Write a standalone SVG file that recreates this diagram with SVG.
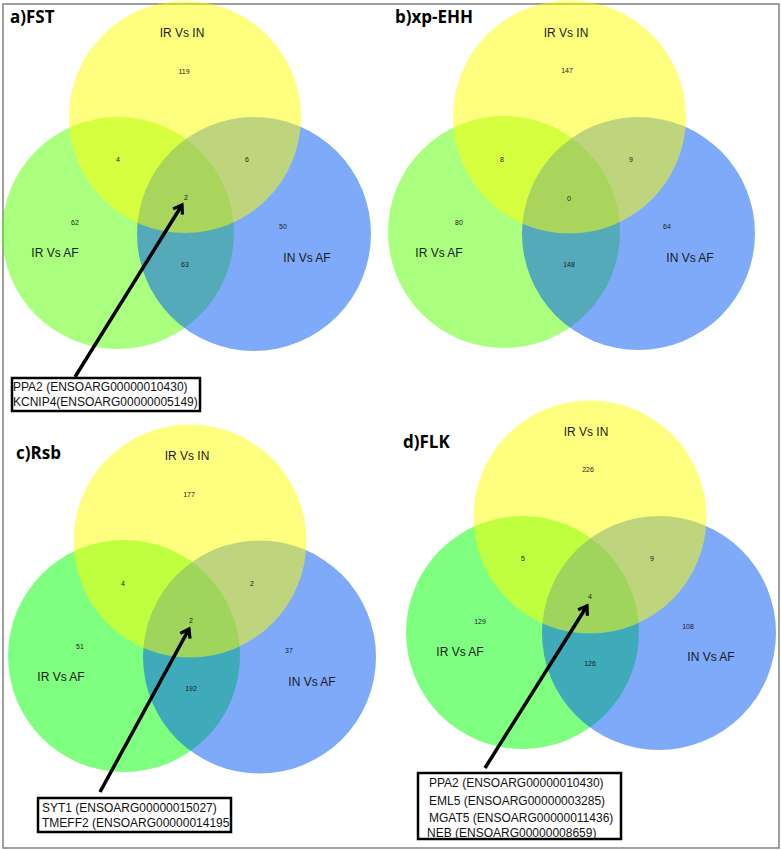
<svg xmlns="http://www.w3.org/2000/svg" width="781" height="850" viewBox="0 0 781 850">
<style>
.frame{fill:#ffffff;stroke:#808080;stroke-width:1.5}
.y{fill:#FFFF00;fill-opacity:0.5}
.g1{fill:#55FF00;fill-opacity:0.5}
.g2{fill:#00FF00;fill-opacity:0.5}
.b{fill:#0055F5;fill-opacity:0.5}
.lab{font-family:"Liberation Sans",Arial,sans-serif;font-size:12px;fill:#1a1a1a;text-anchor:middle}
.num{font-family:"Liberation Sans",Arial,sans-serif;font-size:7px;fill:#1a1a1a;text-anchor:middle}
.title{font-family:"Open Sans","Liberation Sans",sans-serif;font-size:17px;font-weight:700;fill:#000}
.box{fill:#ffffff;stroke:#000;stroke-width:2.5}
.gene{font-family:"Liberation Sans",Arial,sans-serif;font-size:12px;fill:#111}
.arrow{stroke:#000;stroke-width:3.5;fill:none;marker-end:url(#ah)}
</style>
<defs>
<marker id="ah" viewBox="0 0 14 14" markerWidth="14" markerHeight="14" refX="11" refY="7" orient="auto" markerUnits="userSpaceOnUse">
<path d="M3,1.5 L11,7 L3,12.5" fill="none" stroke="#000" stroke-width="3.2" stroke-linejoin="miter"/>
</marker>
</defs>
<rect class="frame" x="3" y="4" width="776" height="844"/>

<g id="panel-a">
<circle class="g1" cx="118" cy="233" r="116"/>
<circle class="b" cx="254" cy="234" r="117"/>
<circle class="y" cx="185" cy="117" r="116"/>
<text class="title" x="10" y="23">a)FST</text>
<text class="lab" x="182" y="37">IR Vs IN</text>
<text class="num" x="184" y="73.5">119</text>
<text class="num" x="118" y="161.5">4</text>
<text class="num" x="247" y="161.5">6</text>
<text class="num" x="186" y="200">2</text>
<text class="num" x="75" y="224.5">62</text>
<text class="num" x="283" y="229">50</text>
<text class="num" x="185" y="266.5">63</text>
<text class="lab" x="55" y="257">IR Vs AF</text>
<text class="lab" x="307" y="262">IN Vs AF</text>
</g>

<g id="panel-b">
<circle class="g1" cx="504" cy="232" r="116"/>
<circle class="b" cx="638.5" cy="233.5" r="116.5"/>
<circle class="y" cx="569.5" cy="117" r="116.5"/>
<text class="title" x="395" y="23">b)xp-EHH</text>
<text class="lab" x="566" y="37">IR Vs IN</text>
<text class="num" x="567" y="72.5">147</text>
<text class="num" x="502" y="161.5">8</text>
<text class="num" x="631" y="161.5">9</text>
<text class="num" x="569" y="200.5">0</text>
<text class="num" x="459" y="224.5">80</text>
<text class="num" x="667" y="229">64</text>
<text class="num" x="569" y="266.5">148</text>
<text class="lab" x="439" y="257">IR Vs AF</text>
<text class="lab" x="690" y="262">IN Vs AF</text>
</g>

<g id="panel-c">
<circle class="g2" cx="124" cy="656" r="116"/>
<circle class="b" cx="259.5" cy="657" r="116.5"/>
<circle class="y" cx="190" cy="541" r="116.5"/>
<text class="title" x="16" y="459">c)Rsb</text>
<text class="lab" x="187" y="460">IR Vs IN</text>
<text class="num" x="189" y="496.5">177</text>
<text class="num" x="123" y="585.5">4</text>
<text class="num" x="252" y="585.5">2</text>
<text class="num" x="191" y="623">2</text>
<text class="num" x="80" y="648.5">51</text>
<text class="num" x="289" y="652.5">37</text>
<text class="num" x="191" y="690.5">192</text>
<text class="lab" x="61" y="681">IR Vs AF</text>
<text class="lab" x="312" y="686">IN Vs AF</text>
</g>

<g id="panel-d">
<circle class="g2" cx="522.5" cy="632.5" r="116.5"/>
<circle class="b" cx="659" cy="633" r="117"/>
<circle class="y" cx="590" cy="517" r="116.5"/>
<text class="title" x="403" y="448">d)FLK</text>
<text class="lab" x="586" y="436">IR Vs IN</text>
<text class="num" x="588" y="471.5">226</text>
<text class="num" x="523" y="560.5">5</text>
<text class="num" x="652" y="560.5">9</text>
<text class="num" x="590" y="599">4</text>
<text class="num" x="480" y="623.5">129</text>
<text class="num" x="688" y="628.5">108</text>
<text class="num" x="590" y="665.5">126</text>
<text class="lab" x="460" y="656">IR Vs AF</text>
<text class="lab" x="711" y="661">IN Vs AF</text>
</g>

<g id="connectors">
<line class="arrow" x1="75" y1="377" x2="182" y2="205"/>
<line class="arrow" x1="100" y1="792" x2="189" y2="629"/>
<line class="arrow" x1="485" y1="768" x2="587" y2="606"/>
</g>

<g id="box-a">
<rect class="box" x="12" y="378" width="188" height="33"/>
<text class="gene" x="13" y="391">PPA2 (ENSOARG00000010430)</text>
<text class="gene" x="13" y="406">KCNIP4(ENSOARG00000005149)</text>
</g>

<g id="box-c">
<rect class="box" x="38" y="798" width="193" height="34"/>
<text class="gene" x="42" y="812">SYT1 (ENSOARG00000015027)</text>
<text class="gene" x="42" y="827">TMEFF2 (ENSOARG00000014195</text>
</g>

<g id="box-d">
<rect class="box" x="418" y="773" width="203" height="66" stroke-width="3"/>
<text class="gene" x="429" y="787">PPA2 (ENSOARG00000010430)</text>
<text class="gene" x="429" y="805">EML5 (ENSOARG00000003285)</text>
<text class="gene" x="429" y="822">MGAT5 (ENSOARG00000011436)</text>
<text class="gene" x="427" y="837">NEB (ENSOARG00000008659)</text>
</g>
</svg>
